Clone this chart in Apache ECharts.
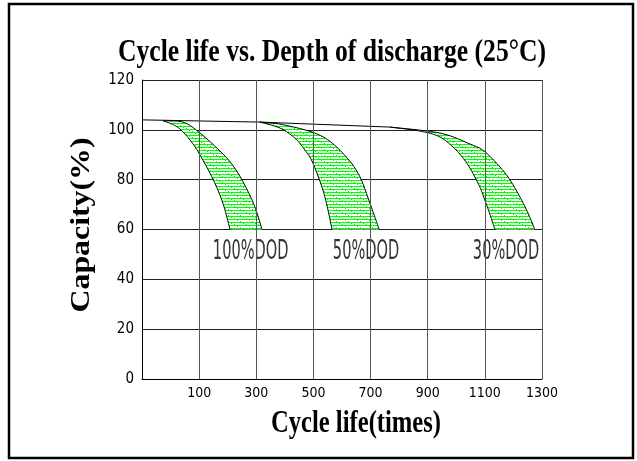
<!DOCTYPE html>
<html>
<head>
<meta charset="utf-8">
<script src="https://cdn.jsdelivr.net/npm/echarts@6/dist/echarts.min.js"></script>
<style>
html,body{margin:0;padding:0;background:#fff;}
#chart{width:637px;height:461px;}
</style>
</head>
<body>
<div id="chart"></div>
<script>
// ---- data ----
const xTickLabels = [100, 300, 500, 700, 900, 1100, 1300];
const yTickStep = 20;
const topLine = [[-100, 104], [313, 103.1], [768, 101.1]];
const band100Outer = [[-26, 103.6], [43, 103.1], [99, 99.1], [180, 90.7], [229, 83.9], [274, 74.6], [299, 67.8], [320, 60]];
const band100Inner = [[-26, 103.6], [5, 102.3], [33, 100.3], [68, 95.9], [99, 90.7], [148, 80.3], [183, 70.6], [208, 60]];
const band50Outer = [[313, 103.1], [383, 102.3], [495, 99.1], [561, 95.1], [624, 87.9], [663, 81.1], [694, 71.8], [715, 65], [730, 60]];
const band50Inner = [[313, 103.1], [383, 100.7], [435, 96.7], [470, 91.9], [498, 86.7], [533, 75.9], [551, 67.8], [565, 60]];
const band30Outer = [[768, 101.1], [943, 98.7], [1048, 94.3], [1097, 91.5], [1153, 85.1], [1188, 79.9], [1223, 73.0], [1251, 66.6], [1275, 60]];
const band30Inner = [[768, 101.1], [873, 99.5], [943, 97.1], [999, 91.9], [1041, 85.9], [1079, 77.9], [1100, 71.8], [1121, 65], [1135, 60]];
const bandNames = ['100%DOD', '50%DOD', '30%DOD'];
const labelX = [148, 568, 1058];
const labelY = 51;
const titleText = 'Cycle life vs. Depth of discharge (25°C)';
const xName = 'Cycle life(times)';
const yName = 'Capacity(%)';

const bands = [[band100Outer, band100Inner], [band50Outer, band50Inner], [band30Outer, band30Inner]];

// ---- helpers ----
const mctx = document.createElement('canvas').getContext('2d');
function fitScale(text, font, target) {
  mctx.font = font;
  return target / mctx.measureText(text).width;
}
// Catmull-Rom smoothing of already-projected pixel points (rendering only)
function smoothPx(pts, steps) {
  const out = [];
  const n = pts.length;
  for (let i = 0; i < n - 1; i++) {
    const p0 = pts[Math.max(0, i - 1)], p1 = pts[i], p2 = pts[i + 1], p3 = pts[Math.min(n - 1, i + 2)];
    for (let s = 0; s < steps; s++) {
      const t = s / steps, t2 = t * t, t3 = t2 * t;
      out.push([0, 1].map(k => 0.5 * ((2 * p1[k]) + (-p0[k] + p2[k]) * t +
        (2 * p0[k] - 5 * p1[k] + 4 * p2[k] - p3[k]) * t2 +
        (-p0[k] + 3 * p1[k] - 3 * p2[k] + p3[k]) * t3)));
    }
  }
  out.push(pts[n - 1].slice());
  return out;
}
const pat = document.createElement('canvas');
pat.width = 12; pat.height = 6;
(function () {
  const c = pat.getContext('2d');
  c.fillStyle = '#ffffff'; c.fillRect(0, 0, 12, 6);
  c.fillStyle = '#00ff00';
  c.fillRect(0, 0, 12, 1); c.fillRect(0, 3, 12, 1);
  c.fillRect(3, 1, 1, 1); c.fillRect(9, 4, 1, 1); c.fillRect(6, 2, 1, 1); c.fillRect(0, 5, 1, 1);
})();

const tickFont = '"Liberation Sans Narrow", "DejaVu Sans Condensed", sans-serif';
const serifBold = '"Liberation Serif", "DejaVu Serif", serif';
const dodFont = '27px "Liberation Sans Narrow", "DejaVu Sans Condensed", sans-serif';
const titleFont = 'bold 32px ' + serifBold;
const xNameFont = 'bold 31px ' + serifBold;
const yNameFont = 'bold 27px ' + serifBold;

const chart = echarts.init(document.getElementById('chart'), null, {renderer: 'canvas'});

const option = {
  backgroundColor: '#ffffff',
  animation: false,
  grid: {left: 142, right: 95, top: 80, bottom: 82, containLabel: false},
  xAxis: {
    type: 'value', min: -100, max: 1300, interval: 100,
    axisLine: {show: true, onZero: false, lineStyle: {color: '#000', width: 1}},
    axisTick: {show: false},
    splitLine: {show: false},
    axisLabel: {
      margin: 7, color: '#000', fontFamily: tickFont, fontSize: 14,
      formatter: v => (xTickLabels.indexOf(v) >= 0 ? String(v) : '')
    }
  },
  yAxis: {
    type: 'value', min: 0, max: 120, interval: yTickStep,
    axisLine: {show: true, onZero: false, lineStyle: {color: '#000', width: 1}},
    axisTick: {show: false},
    splitLine: {show: true, lineStyle: {color: '#222', width: 1}},
    axisLabel: {margin: 8, color: '#000', fontFamily: tickFont, fontSize: 15}
  },
  graphic: [
    {type: 'rect', shape: {x: 9, y: 4, width: 624, height: 454}, style: {fill: 'none', stroke: '#000', lineWidth: 2.5}, z: 100},
    {type: 'text', x: 332, y: 53, scaleX: fitScale(titleText, titleFont, 428),
      style: {text: titleText, font: titleFont, fill: '#000', textAlign: 'center', textVerticalAlign: 'middle'}},
    {type: 'text', x: 356, y: 424, scaleX: fitScale(xName, xNameFont, 170),
      style: {text: xName, font: xNameFont, fill: '#000', textAlign: 'center', textVerticalAlign: 'middle'}},
    {type: 'text', x: 82, y: 225, rotation: Math.PI / 2, scaleX: fitScale(yName, yNameFont, 175),
      style: {text: yName, font: yNameFont, fill: '#000', textAlign: 'center', textVerticalAlign: 'middle'}}
  ],
  series: [
    {
      type: 'line', data: [], z: 1, silent: true,
      markLine: {
        silent: true, symbol: 'none', animation: false,
        label: {show: false},
        lineStyle: {color: '#555', width: 1, type: 'solid'},
        data: xTickLabels.map(v => ({xAxis: v}))
      }
    },
    {
      type: 'custom', z: 2, silent: true,
      data: bands.map((b, i) => [b[0][0][0], b[0][0][1], i]),
      encode: {x: 0, y: 1},
      renderItem: function (params, api) {
        const b = bands[api.value(2)];
        const outer = smoothPx(b[0].map(p => api.coord(p)), 10);
        const inner = smoothPx(b[1].map(p => api.coord(p)), 10);
        const poly = outer.concat(inner.slice(1).reverse());
        return {
          type: 'group',
          children: [
            {type: 'polygon', shape: {points: poly}, style: {fill: {image: pat, repeat: 'repeat'}, stroke: null}},
            {type: 'polyline', shape: {points: outer}, style: {fill: null, stroke: '#000', lineWidth: 1}},
            {type: 'polyline', shape: {points: inner}, style: {fill: null, stroke: '#000', lineWidth: 1}}
          ]
        };
      }
    },
    {
      type: 'line', z: 2, silent: true, data: topLine, symbol: 'none',
      lineStyle: {color: '#000', width: 1}
    },
    {
      type: 'custom', z: 3, silent: true,
      data: bandNames.map((n, i) => [labelX[i], labelY, i]),
      encode: {x: 0, y: 1},
      renderItem: function (params, api) {
        const i = api.value(2);
        const p = api.coord([api.value(0), api.value(1)]);
        const txt = bandNames[i];
        const s = 0.6;
        mctx.font = dodFont;
        const w = mctx.measureText(txt).width * s;
        return {
          type: 'group',
          children: [
            {type: 'rect', shape: {x: p[0] - 16, y: p[1] - 14, width: w + 14, height: 40}, style: {fill: '#fff', stroke: null}},
            {type: 'text', x: p[0], y: p[1], scaleX: s,
              style: {text: txt, font: dodFont, fill: '#333', align: 'left', verticalAlign: 'middle', textAlign: 'left', textVerticalAlign: 'middle'}}
          ]
        };
      }
    }
  ]
};
chart.setOption(option);
</script>
</body>
</html>
